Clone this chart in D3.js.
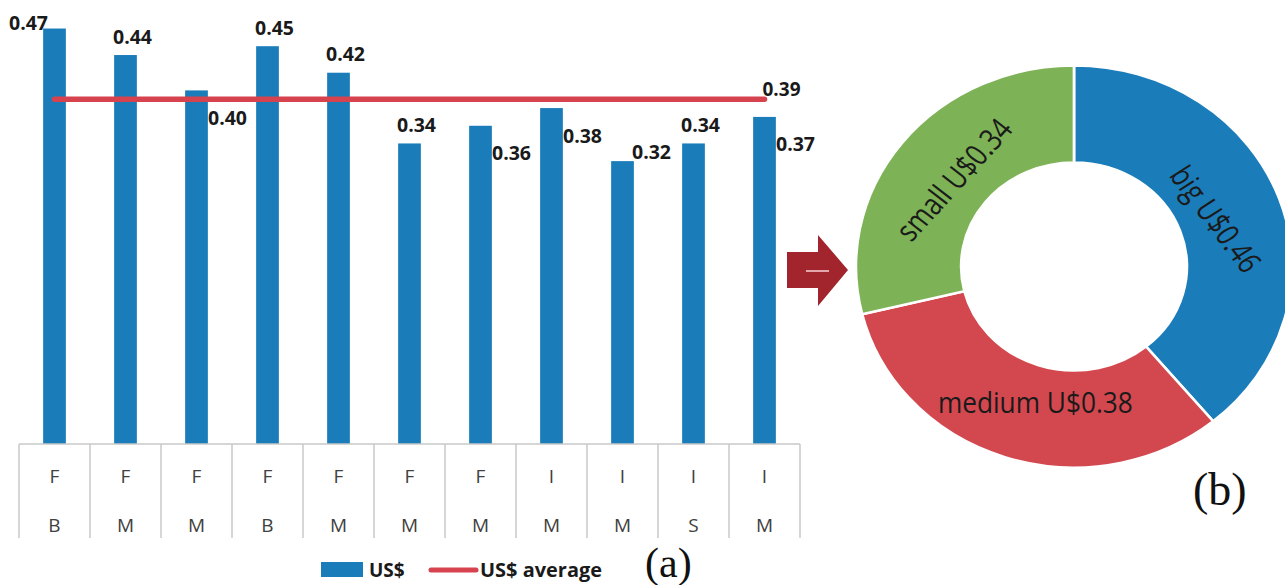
<!DOCTYPE html>
<html>
<head>
<meta charset="utf-8">
<script src="https://cdn.jsdelivr.net/npm/d3@7"></script>
<style>
  html, body { margin: 0; padding: 0; background: #fff; }
  svg { display: block; }
</style>
</head>
<body>
<svg id="chart" width="1285" height="585"></svg>
<script>
// ---------------- DATA ----------------
const typeRow = ["F", "F", "F", "F", "F", "F", "F", "I", "I", "I", "I"];
const sizeRow = ["B", "M", "M", "B", "M", "M", "M", "M", "M", "S", "M"];
const usdValues = [0.47, 0.44, 0.40, 0.45, 0.42, 0.34, 0.36, 0.38, 0.32, 0.34, 0.37];
const usdAverage = 0.39;
const legendLabels = ["US$", "US$ average"];
const donutCategories = ["big", "medium", "small"];
const donutValues = [0.46, 0.38, 0.34];
const panelLabels = ["(a)", "(b)"];

// ---------------- STYLE / LAYOUT ----------------
const BLUE = "#1a7dba", RED_LINE = "#d6434e", DONUT_RED = "#d3484f", GREEN = "#7db356", ARROW = "#a2242c";
const FONT = "'Open Sans', 'Noto Sans', sans-serif";
const SERIF = "'Liberation Serif', 'DejaVu Serif', serif";
const labelMode = ["aboveLeft", "above", "right", "above", "above", "above", "right", "right", "rightUp", "above", "right"];
const modeOffset = {
  aboveLeft: [-26, -6], above: [7, -19], right: [31, 27], rightUp: [29, -10]
};
const condense = 0.82;

const svg = d3.select("#chart");

// ---------------- BAR CHART ----------------
const idx = usdValues.map((d, i) => i);
const x = d3.scaleBand().domain(idx).range([19, 800]).padding(0);
const y = d3.scaleLinear().domain([0, 0.5]).range([444, 2]);
const barW = x.bandwidth() * 0.32;

svg.append("g").selectAll("rect").data(usdValues).join("rect")
  .attr("x", (d, i) => x(i) + x.bandwidth() / 2 - barW / 2)
  .attr("y", d => y(d))
  .attr("width", barW)
  .attr("height", d => y(0) - y(d))
  .attr("fill", BLUE);

// average line
const cx0 = x(0) + x.bandwidth() / 2, cxN = x(idx.length - 1) + x.bandwidth() / 2;
svg.append("line")
  .attr("x1", cx0).attr("x2", cxN)
  .attr("y1", y(usdAverage)).attr("y2", y(usdAverage))
  .attr("stroke", RED_LINE).attr("stroke-width", 5.5).attr("stroke-linecap", "round");

svg.append("text")
  .attr("x", cxN - 2).attr("y", y(usdAverage) - 10)
  .attr("dominant-baseline", "central")
  .attr("font-family", FONT).attr("font-weight", "bold").attr("font-size", 19)
  .attr("fill", "#1a1a1a")
  .text(usdAverage.toFixed(2));

// value labels
svg.append("g").selectAll("text").data(usdValues).join("text")
  .attr("x", (d, i) => x(i) + x.bandwidth() / 2 + modeOffset[labelMode[i]][0])
  .attr("y", d => y(d))
  .attr("dy", (d, i) => modeOffset[labelMode[i]][1])
  .attr("text-anchor", "middle")
  .attr("dominant-baseline", "central")
  .attr("font-family", FONT).attr("font-weight", "bold").attr("font-size", 19.5)
  .attr("fill", "#1a1a1a")
  .text(d => d.toFixed(2));

// category table
const grid = svg.append("g").attr("stroke", "#c9c9c9").attr("stroke-width", 1.5);
grid.append("line").attr("x1", x(0)).attr("x2", x(idx.length - 1) + x.bandwidth())
  .attr("y1", 444).attr("y2", 444);
grid.selectAll("line.v").data(d3.range(idx.length + 1)).join("line")
  .attr("class", "v")
  .attr("x1", i => 19 + i * x.bandwidth()).attr("x2", i => 19 + i * x.bandwidth())
  .attr("y1", 444).attr("y2", 538);

[typeRow, sizeRow].forEach((row, r) => {
  svg.append("g").selectAll("text").data(row).join("text")
    .attr("x", (d, i) => x(i) + x.bandwidth() / 2)
    .attr("y", r === 0 ? 475.5 : 525)
    .attr("text-anchor", "middle")
    .attr("dominant-baseline", "central")
    .attr("font-family", FONT).attr("font-size", 19)
    .attr("fill", "#404040")
    .text(d => d);
});

// legend
svg.append("rect").attr("x", 321).attr("y", 562).attr("width", 42).attr("height", 15).attr("fill", BLUE);
svg.append("text").attr("x", 369).attr("y", 577)
  .attr("font-family", FONT).attr("font-weight", "bold").attr("font-size", 19).attr("fill", "#1a1a1a")
  .text(legendLabels[0]);
svg.append("line").attr("x1", 431).attr("x2", 476).attr("y1", 570).attr("y2", 570)
  .attr("stroke", RED_LINE).attr("stroke-width", 5).attr("stroke-linecap", "round");
svg.append("text").attr("x", 480).attr("y", 577)
  .attr("font-family", FONT).attr("font-weight", "bold").attr("font-size", 19).attr("fill", "#1a1a1a")
  .attr("textLength", 122).attr("lengthAdjust", "spacingAndGlyphs")
  .text(legendLabels[1]);

// panel labels
svg.append("text").attr("x", 645).attr("y", 577)
  .attr("font-family", SERIF).attr("font-size", 42).attr("fill", "#111")
  .text(panelLabels[0]);
svg.append("text").attr("x", 1193).attr("y", 505)
  .attr("font-family", SERIF).attr("font-size", 46).attr("fill", "#111")
  .text(panelLabels[1]);

// arrow
svg.append("path")
  .attr("d", d3.line()([[787, 252], [818, 252], [818, 235], [848, 270], [818, 306], [818, 288], [787, 288]]) + "Z")
  .attr("fill", ARROW);
svg.append("line").attr("x1", 806).attr("x2", 829).attr("y1", 271).attr("y2", 271)
  .attr("stroke", "#e3a6aa").attr("stroke-width", 2);

// ---------------- DONUT ----------------
const donutColors = d3.scaleOrdinal().domain(donutCategories).range([BLUE, DONUT_RED, GREEN]);
const labelRotate = { big: 55, medium: 0, small: -50 };
const labelShift = { big: [-2, 0], medium: [9, 0], small: [0, 0] };
const labelSize = { big: 30, medium: 29.5, small: 30 };
const pie = d3.pie().sort(null).value(d => d.v);
const arcs = pie(donutCategories.map((c, i) => ({ c, v: donutValues[i] })));
const arc = d3.arc().innerRadius(104).outerRadius(201);
const labelArc = d3.arc().innerRadius(142).outerRadius(142);

const dg = svg.append("g").attr("transform", "translate(1074,266.5) scale(1.085,1)");
dg.selectAll("path").data(arcs).join("path")
  .attr("d", arc)
  .attr("fill", d => donutColors(d.data.c))
  .attr("stroke", "#fff").attr("stroke-width", 2.5);

dg.selectAll("text").data(arcs).join("text")
  .attr("transform", d => {
    const [px, py] = labelArc.centroid(d);
    const [sx, sy] = labelShift[d.data.c];
    return `translate(${px + sx},${py + sy}) rotate(${labelRotate[d.data.c]}) scale(${condense},1)`;
  })
  .attr("text-anchor", "middle")
  .attr("dominant-baseline", "central")
  .attr("font-family", FONT).attr("font-size", d => labelSize[d.data.c])
  .attr("fill", "#1a1a1a")
  .text(d => `${d.data.c} U$${d.data.v.toFixed(2)}`);
</script>
</body>
</html>
